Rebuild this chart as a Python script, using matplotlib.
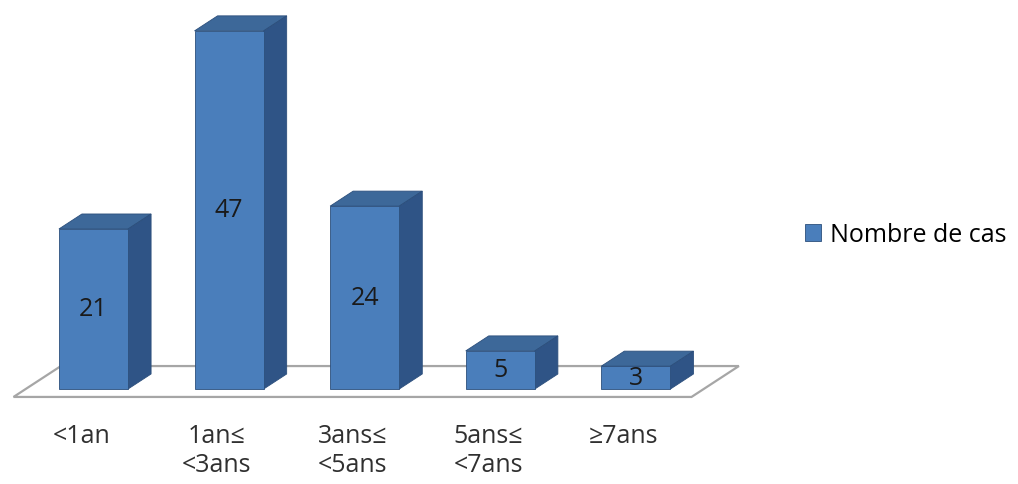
import matplotlib
matplotlib.use("Agg")
import matplotlib.pyplot as plt
from matplotlib.patches import Polygon
import numpy as np

# donnees
categories = ["<1an", "1an\u2264\n<3ans", "3ans\u2264\n<5ans", "5ans\u2264\n<7ans", "\u22657ans"]
nombre_cas = [21, 47, 24, 5, 3]
serie = "Nombre de cas"

plt.rcParams['font.family'] = ['Open Sans', 'DejaVu Sans']

front_col = '#4a7ebb'
top_col = '#3d6899'
side_col = '#2f5486'
edge_col = '#2c4f7c'
fs = 18

W, H = 1018, 485
fig = plt.figure(figsize=(W / 100, H / 100), dpi=100)
ax = fig.add_axes([0, 0, 1, 1])
ax.set_axis_off()

# echelle : 1 categorie = 135.6 px, 1 cas = 7.62 px
px_x, px_y = 135.6, 7.62
x0_px, y0_px = 93.5, 390
ax.set_xlim(-x0_px / px_x, (W - x0_px) / px_x)
ax.set_ylim((y0_px - H) / px_y, y0_px / px_y)

x = np.arange(len(categories))
w = 0.51
ddx, ddy = 23 / px_x, 15 / px_y   # profondeur des barres
m = 0.53                          # marge du sol

# sol
fl = [(-0.5 - m * ddx, -m * ddy), (4.5 - m * ddx, -m * ddy),
      (4.5 + (1 + m) * ddx, (1 + m) * ddy), (-0.5 + (1 + m) * ddx, (1 + m) * ddy)]
ax.add_patch(Polygon(fl, closed=True, facecolor='white', edgecolor='#a6a6a6', lw=1.6, zorder=1))

# barres
ax.bar(x, nombre_cas, w, color=front_col, edgecolor=edge_col, lw=0.6, zorder=3, label=serie)
for xi, v in zip(x, nombre_cas):
    l, r = xi - w / 2, xi + w / 2
    top = [(l, v), (r, v), (r + ddx, v + ddy), (l + ddx, v + ddy)]
    side = [(r, 0), (r + ddx, ddy), (r + ddx, v + ddy), (r, v)]
    ax.add_patch(Polygon(top, closed=True, facecolor=top_col, edgecolor=edge_col, lw=0.6, zorder=2))
    ax.add_patch(Polygon(side, closed=True, facecolor=side_col, edgecolor=edge_col, lw=0.6, zorder=2))
    ax.text(xi, v / 2, str(v), ha='center', va='center', fontsize=fs, color='#1a1a1a', zorder=4)

# etiquettes des categories
for xi, c in zip(x, categories):
    ax.text(xi - m * ddx, (y0_px - 424) / px_y, c, ha='center', va='top',
            fontsize=fs, color='#303030', linespacing=1.2)

ax.legend(loc='center left', bbox_to_anchor=(805 / W, 1 - 236 / H), bbox_transform=fig.transFigure,
          frameon=False, fontsize=fs, borderpad=0, borderaxespad=0, handlelength=0.65,
          handleheight=0.65, handletextpad=0.35)

fig.savefig("out.png", dpi=100)
